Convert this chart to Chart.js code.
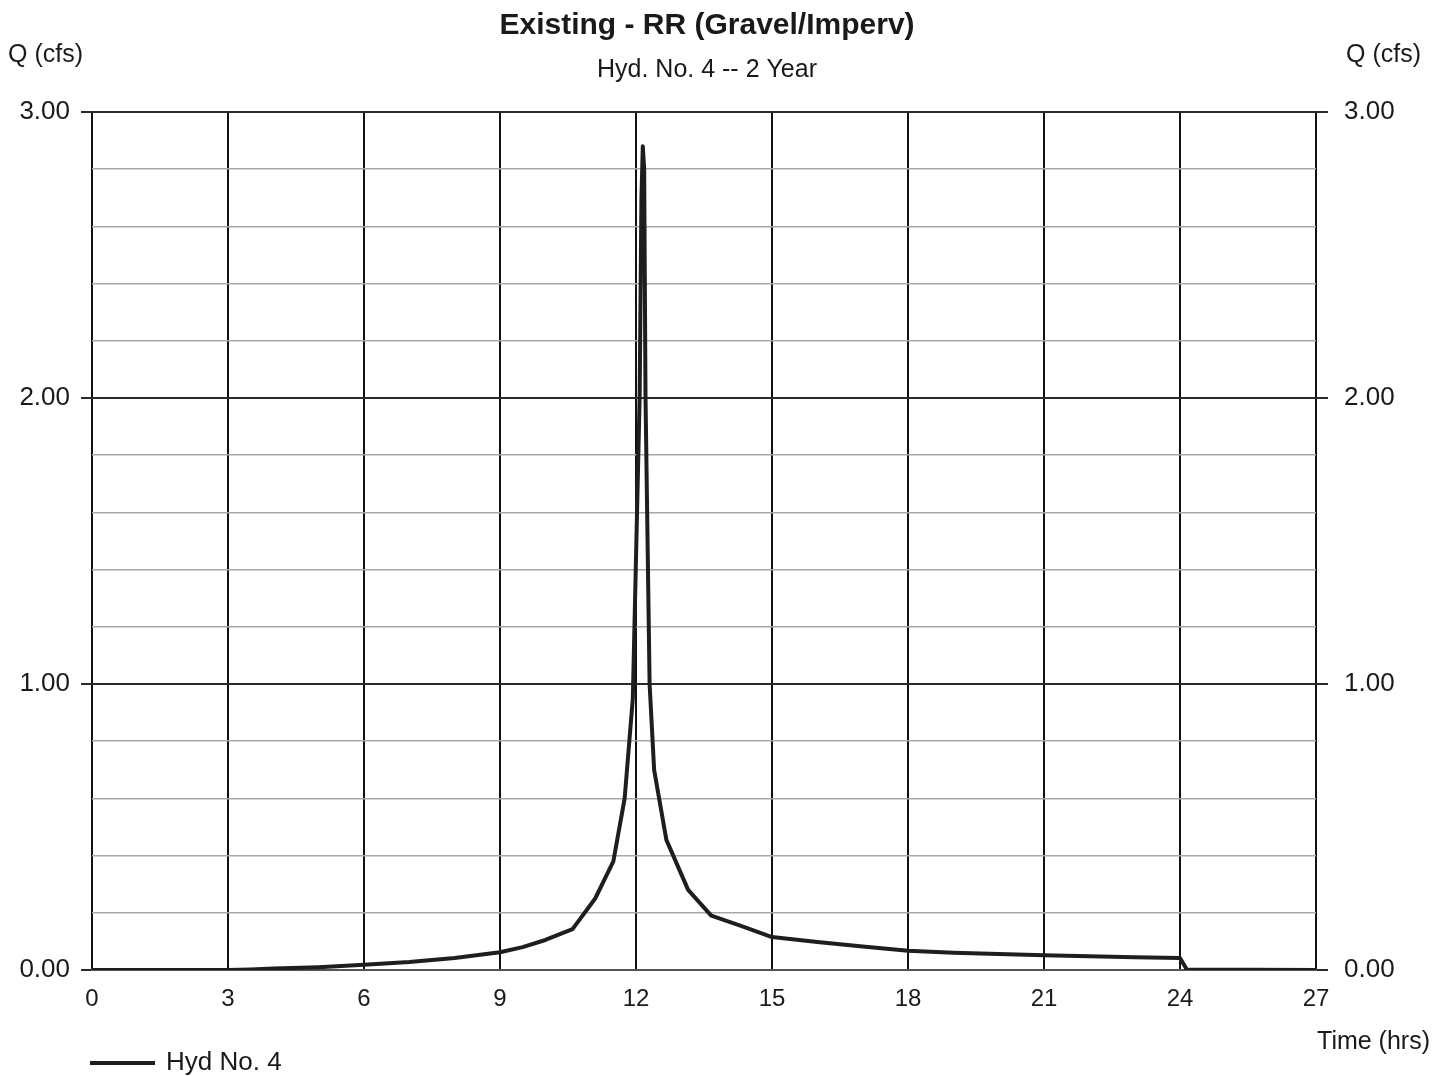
<!DOCTYPE html>
<html>
<head>
<meta charset="utf-8">
<script src="https://cdn.jsdelivr.net/npm/chart.js@4.4.0/dist/chart.umd.min.js"></script>
<style>
  body { margin: 0; background: #fff; }
  #wrap { width: 1447px; height: 1076px; }
</style>
</head>
<body>
<div id="wrap"><canvas id="hydChart"></canvas></div>
<script>
// hydrograph: time (hrs) and flow Q (cfs)
const timeHrs = [0, 3, 3.5, 4, 5, 6, 7, 8, 9, 9.5, 10, 10.6, 11.1, 11.5, 11.75, 11.93, 12.08, 12.12, 12.15, 12.18, 12.21, 12.3, 12.4, 12.67, 13.15, 13.66, 14.3, 15, 16, 17, 18, 19, 20, 21, 22, 23, 24, 24.15, 27];
const flowCfs = [0, 0, 0.002, 0.005, 0.01, 0.018, 0.028, 0.042, 0.062, 0.08, 0.105, 0.143, 0.25, 0.38, 0.6, 0.95, 2.0, 2.7, 2.88, 2.8, 2.0, 1.0, 0.7, 0.455, 0.28, 0.19, 0.155, 0.115, 0.098, 0.082, 0.067, 0.06, 0.056, 0.052, 0.048, 0.045, 0.042, 0.002, 0];
const xTicks = [0, 3, 6, 9, 12, 15, 18, 21, 24, 27];
const yLabels = ['0.00', '1.00', '2.00', '3.00'];

const chartTitle = 'Existing - RR (Gravel/Imperv)';
const chartSubtitle = 'Hyd. No. 4 -- 2 Year';
const seriesName = 'Hyd No. 4';

const FONT = '"Liberation Sans", Arial, sans-serif';

function isMajor(v) {
    return Math.abs(v - Math.round(v)) < 1e-6;
}

function yTickLabel(v) {
    if (!isMajor(v)) return '';
    return yLabels[Math.round(v)];
}

const textPlugin = {
    id: 'textPlugin',
    afterDraw(chart) {
        const ctx = chart.ctx;
        ctx.save();
        ctx.fillStyle = '#1a1a1a';
        ctx.textBaseline = 'middle';

        ctx.textAlign = 'center';
        ctx.font = 'bold 30px ' + FONT;
        ctx.fillText(chartTitle, 707, 26);
        ctx.font = '25px ' + FONT;
        ctx.fillText(chartSubtitle, 707, 70);

        ctx.font = '25px ' + FONT;
        ctx.textAlign = 'left';
        ctx.fillText('Q (cfs)', 8, 55);
        ctx.textAlign = 'right';
        ctx.fillText('Q (cfs)', 1421, 55);
        ctx.fillText('Time (hrs)', 1430, 1042);

        // legend
        ctx.strokeStyle = '#1e1e1e';
        ctx.lineWidth = 4;
        ctx.beginPath();
        ctx.moveTo(90, 1063);
        ctx.lineTo(155, 1063);
        ctx.stroke();
        ctx.textAlign = 'left';
        ctx.font = '26px ' + FONT;
        ctx.fillText(seriesName, 166, 1063);
        ctx.restore();
    }
};

const points = timeHrs.map((t, i) => ({ x: t, y: flowCfs[i] }));

new Chart(document.getElementById('hydChart'), {
    type: 'line',
    data: {
        datasets: [{
            label: seriesName,
            data: points,
            borderColor: '#1e1e1e',
            borderWidth: 4,
            borderJoinStyle: 'round',
            borderCapStyle: 'round',
            pointRadius: 0,
            tension: 0,
            fill: false,
            yAxisID: 'y'
        }]
    },
    options: {
        responsive: true,
        maintainAspectRatio: false,
        animation: false,
        layout: { padding: { top: 112, left: 0, right: 0, bottom: 0 } },
        plugins: {
            legend: { display: false },
            tooltip: { enabled: false }
        },
        scales: {
            x: {
                type: 'linear',
                min: 0,
                max: 27,
                afterBuildTicks: axis => { axis.ticks = xTicks.map(v => ({ value: v })); },
                ticks: {
                    font: { size: 24, family: FONT },
                    color: '#1a1a1a',
                    padding: 15,
                    autoSkip: false,
                    maxRotation: 0
                },
                grid: { color: '#111', lineWidth: 2, tickLength: 0 },
                border: { display: true, color: '#555', width: 2 },
                afterFit: axis => { axis.height = 106; }
            },
            y: {
                position: 'left',
                min: 0,
                max: 3,
                ticks: {
                    stepSize: 0.2,
                    autoSkip: false,
                    callback: yTickLabel,
                    font: { size: 26, family: FONT },
                    color: '#1a1a1a',
                    padding: 11
                },
                grid: {
                    color: c => isMajor(c.tick.value) ? '#2a2a2a' : '#a8a8a8',
                    lineWidth: c => isMajor(c.tick.value) ? 2 : 1.5,
                    tickColor: c => isMajor(c.tick.value) ? '#2a2a2a' : 'rgba(0,0,0,0)',
                    tickLength: 11
                },
                border: { display: false },
                afterFit: axis => { axis.width = 92; }
            },
            y2: {
                position: 'right',
                min: 0,
                max: 3,
                ticks: {
                    stepSize: 0.2,
                    autoSkip: false,
                    callback: yTickLabel,
                    font: { size: 26, family: FONT },
                    color: '#1a1a1a',
                    padding: 16
                },
                grid: {
                    drawOnChartArea: false,
                    tickColor: c => isMajor(c.tick.value) ? '#2a2a2a' : 'rgba(0,0,0,0)',
                    lineWidth: 2,
                    tickLength: 12
                },
                border: { display: false },
                afterFit: axis => { axis.width = 131; }
            }
        }
    },
    plugins: [textPlugin]
});
</script>
</body>
</html>
